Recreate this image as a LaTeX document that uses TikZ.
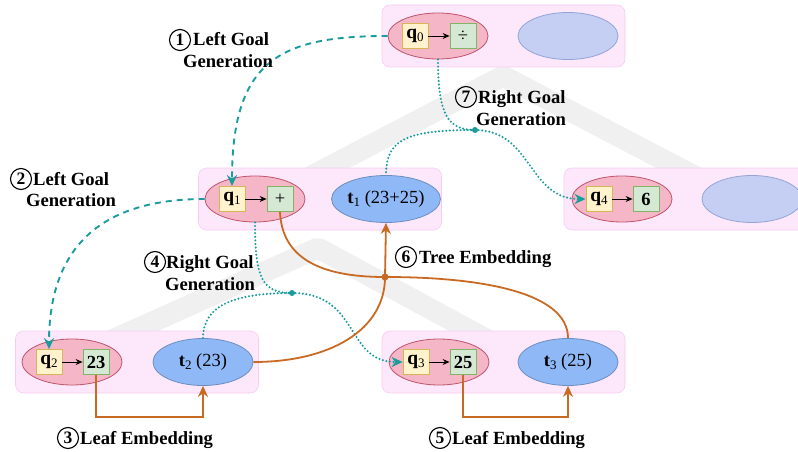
\documentclass[tikz,border=0pt]{standalone}
\usepackage{fontspec}
\setmainfont{Liberation Serif}
\usetikzlibrary{arrows.meta,shapes.geometric}
\definecolor{pinkfill}{HTML}{FDE7FB}
\definecolor{pinkdraw}{HTML}{F5CDF2}
\definecolor{redf}{HTML}{F5B7C8}
\definecolor{redd}{HTML}{C0546C}
\definecolor{bluef}{HTML}{8FB8F6}
\definecolor{blued}{HTML}{6C8EBF}
\definecolor{emptyf}{HTML}{C4CFF3}
\definecolor{emptyd}{HTML}{92A5D6}
\definecolor{yellf}{HTML}{FFF2CC}
\definecolor{yelld}{HTML}{D6B656}
\definecolor{greenf}{HTML}{D5E8D4}
\definecolor{greend}{HTML}{82B366}
\definecolor{tealc}{HTML}{1B9C9C}
\definecolor{orngc}{HTML}{C96A24}
\definecolor{chev}{HTML}{F0F0F0}
\tikzset{
  panel/.style={draw=pinkdraw, fill=pinkfill, rounded corners=8pt, minimum width=243pt, minimum height=62pt, line width=0.6pt},
  qell/.style={ellipse, draw=redd, fill=redf, minimum width=100pt, minimum height=46pt, line width=0.8pt},
  tell/.style={ellipse, draw=blued, fill=bluef, minimum width=100pt, minimum height=47pt, line width=0.8pt, inner sep=0pt, font=\fontsize{18.5}{18.5}\selectfont},
  eell/.style={ellipse, draw=emptyd, fill=emptyf, minimum width=100pt, minimum height=47pt, line width=0.8pt},
  qbox/.style={draw=yelld, fill=yellf, minimum width=26pt, minimum height=25pt, inner sep=0pt, line width=0.8pt, font=\fontsize{19.5}{19.5}\selectfont\bfseries},
  vbox/.style={draw=greend, fill=greenf, minimum width=26pt, minimum height=25pt, inner sep=0pt, line width=0.8pt, font=\fontsize{18.5}{18.5}\selectfont\bfseries},
  inarrow/.style={-{Stealth[length=7pt,width=6pt]}, line width=0.9pt, black},
  tealdash/.style={draw=tealc, line width=1.9pt, dash pattern=on 6pt off 5pt, -{Stealth[length=11pt,width=10pt]}},
  tealdot/.style={draw=tealc, line width=2.3pt, dash pattern=on 0pt off 3.6pt, line cap=round},
  tealtip/.style={-{Stealth[length=11pt,width=10pt]}},
  orng/.style={draw=orngc, line width=1.8pt},
  orngtip/.style={-{Stealth[length=11pt,width=10pt]}},
  tdot/.style={circle, fill=tealc, inner sep=0pt, minimum size=6pt},
  odot/.style={circle, fill=orngc, inner sep=0pt, minimum size=7pt},
  cnum/.style={circle, draw, line width=1.1pt, minimum size=21pt, inner sep=0pt, font=\fontsize{17.5}{17.5}\selectfont\bfseries},
  lbl/.style={font=\fontsize{18.6}{21}\selectfont\bfseries, inner sep=0pt},
  chevron/.style={draw=chev, line width=21pt, line join=bevel},
}
\newcommand{\qsub}[1]{\raisebox{-3pt}{\fontsize{13}{13}\selectfont\mdseries #1}}
\begin{document}
\begin{tikzpicture}[x=1pt,y=-1pt]
\useasboundingbox (0,0) rectangle (798,452);
% background chevrons
\draw[chevron] (300,182) -- (503,76) -- (706,182);
\draw[chevron] (85,352) -- (318,248) -- (510,352);
% panels
\node[panel] (p1) at (503.5,36) {};
\node[panel] (p2) at (320,199) {};
\node[panel] (p3) at (685.5,199) {};
\node[panel] (p4) at (137,362) {};
\node[panel] (p5) at (503.5,362) {};
% root
\node[qell] (r0) at (438,36) {};
\node[qbox] (q0) at (415,36) {q\qsub{0}};
\node[vbox] (v0) at (463,36) {\mdseries ÷};
\node[eell] (b0) at (568,36) {};
% middle left
\node[qell] (r1) at (255,199) {};
\node[qbox] (q1) at (232,199) {q\qsub{1}};
\node[vbox] (v1) at (280,199) {\mdseries +};
\node[tell] (t1) at (386,199) {\textbf{t}\qsub{1} (23+25)};
% middle right
\node[qell] (r4) at (622,199) {};
\node[qbox] (q4) at (599,199) {q\qsub{4}};
\node[vbox] (v4) at (646,199) {6};
\node[eell] (b4) at (752,199) {};
% bottom left
\node[qell] (r2) at (72,362) {};
\node[qbox] (q2) at (49,362) {q\qsub{2}};
\node[vbox] (v2) at (96,362) {23};
\node[tell] (t2) at (203,362) {\textbf{t}\qsub{2} (23)};
% bottom right
\node[qell] (r3) at (439,362) {};
\node[qbox] (q3) at (416,362) {q\qsub{3}};
\node[vbox] (v3) at (463,362) {25};
\node[tell] (t3) at (568,362) {\textbf{t}\qsub{3} (25)};
% inner arrows
\draw[inarrow] (q0) -- (v0);
\draw[inarrow] (q1) -- (v1);
\draw[inarrow] (q4) -- (v4);
\draw[inarrow] (q2) -- (v2);
\draw[inarrow] (q3) -- (v3);
% (1) left goal generation
\draw[tealdash] (r0.west) .. controls (280,36) and (232,60) .. (q1.north);
% (2) left goal generation
\draw[tealdash] (r1.west) .. controls (115,199) and (49,235) .. (q2.north);
% (7) right goal generation
\node[tdot] (j7) at (475,130) {};
\draw[tealdot] (r0.south) .. controls (438,115) and (448,130) .. (j7.center);
\draw[tealdot] (j7.center) .. controls (405,130) and (386,140) .. (t1.north);
\draw[tealdot, tealtip] (j7.center) .. controls (532,130) and (528,199) .. (q4.west);
% (4) right goal generation
\node[tdot] (j4) at (292,293) {};
\draw[tealdot] (r1.south) .. controls (255,278) and (262,293) .. (j4.center);
\draw[tealdot] (j4.center) .. controls (235,293) and (203,305) .. (t2.north);
\draw[tealdot, tealtip] (j4.center) .. controls (360,293) and (345,362) .. (q3.west);
% (3) and (5) leaf embedding
\coordinate (y35) at (0,417);
\draw[orng, orngtip] (v2.south) -- (v2.south |- y35) -| (t2.south);
\draw[orng, orngtip] (v3.south) -- (v3.south |- y35) -| (t3.south);
% (6) tree embedding
\node[odot] (jt) at (385,277) {};
\draw[orng] (v1.south) .. controls (282,258) and (320,277) .. (jt.center);
\draw[orng] (t2.east) .. controls (330,362) and (385,330) .. (jt.center);
\draw[orng] (t3.north) .. controls (568,292) and (480,277) .. (jt.center);
\draw[orng, orngtip] (jt.center) -- (t1.south);
% labels
\node[cnum] (c1) at (180,40) {1};
\node[lbl, anchor=base west] (l1a) at (193,46) {Left Goal};
\node[lbl, anchor=base] (l1b) at (228,67) {Generation};
\node[cnum] (c2) at (21,179) {2};
\node[lbl, anchor=base west] (l2a) at (33,185) {Left Goal};
\node[lbl, anchor=base] (l2b) at (71,206) {Generation};
\node[cnum] (c4) at (155,262) {4};
\node[lbl, anchor=base west] (l4a) at (166,268) {Right Goal};
\node[lbl, anchor=base] (l4b) at (210,290) {Generation};
\node[cnum] (c6) at (406,257) {6};
\node[lbl, anchor=base west] (l6) at (419,263) {Tree Embedding};
\node[cnum] (c7) at (466,97) {7};
\node[lbl, anchor=base west] (l7a) at (478,103) {Right Goal};
\node[lbl, anchor=base] (l7b) at (521,125) {Generation};
\node[cnum] (c3) at (68,438) {3};
\node[lbl, anchor=base west] (l3) at (80,444) {Leaf Embedding};
\node[cnum] (c5) at (440,438) {5};
\node[lbl, anchor=base west] (l5) at (452,444) {Leaf Embedding};
\end{tikzpicture}
\end{document}
